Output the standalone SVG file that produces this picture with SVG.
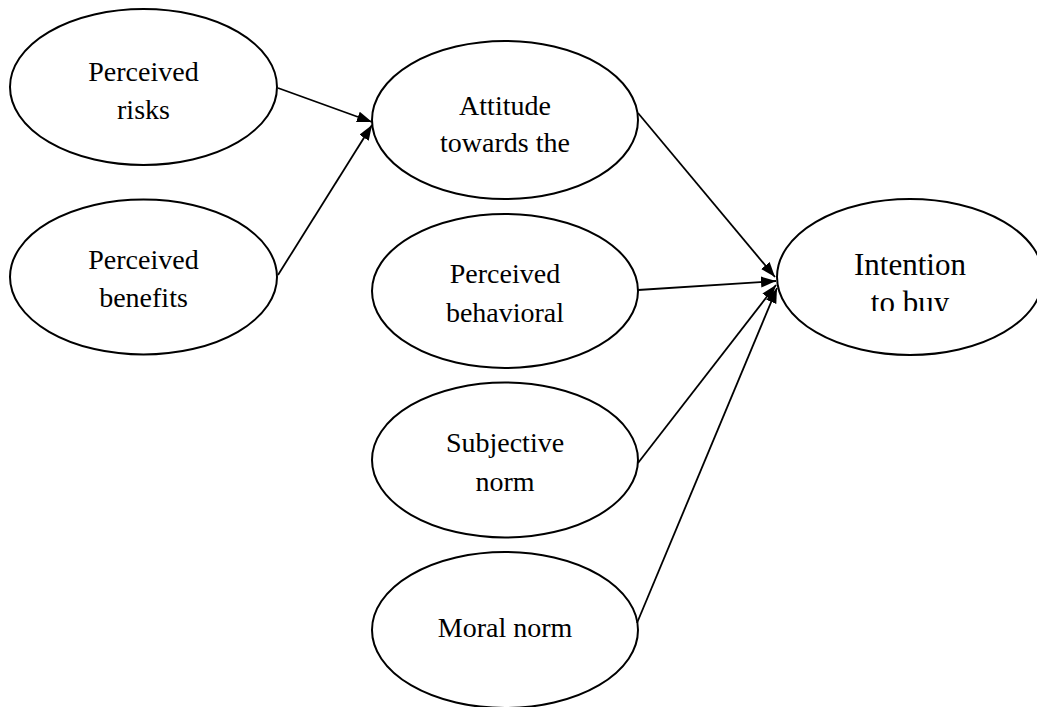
<svg xmlns="http://www.w3.org/2000/svg" width="1037" height="707" viewBox="0 0 1037 707">
<style>
.node ellipse { fill: #ffffff; stroke: #000000; stroke-width: 2; }
.node text { font-family: "Liberation Serif", "Times New Roman", serif; font-size: 28px; fill: #000000; text-anchor: middle; }
.edge line { stroke: #000000; stroke-width: 1.8; marker-end: url(#arrow); }
</style>
<defs>
<marker id="arrow" markerUnits="userSpaceOnUse" markerWidth="16" markerHeight="12" refX="15" refY="5.5" orient="auto">
<path d="M0,0 L15,5.5 L0,11 z" fill="#000000"/>
</marker>
<clipPath id="clipBuy"><rect x="780" y="200" width="260" height="111"/></clipPath>
</defs>
<rect width="1037" height="707" fill="#ffffff"/>
<g id="n-risks" class="node">
<ellipse cx="143.5" cy="87" rx="133.5" ry="78"/>
<text x="143.5" y="81">Perceived</text>
<text x="143.5" y="119">risks</text>
</g>
<g id="n-benefits" class="node">
<ellipse cx="143.5" cy="277" rx="133.5" ry="77.5"/>
<text x="143.5" y="269">Perceived</text>
<text x="143.5" y="307">benefits</text>
</g>
<g id="n-attitude" class="node">
<ellipse cx="505" cy="120" rx="133" ry="79"/>
<text x="505" y="115">Attitude</text>
<text x="505" y="152">towards the</text>
</g>
<g id="n-behavioral" class="node">
<ellipse cx="505" cy="291" rx="133" ry="77"/>
<text x="505" y="283">Perceived</text>
<text x="505" y="322">behavioral</text>
</g>
<g id="n-subjective" class="node">
<ellipse cx="505" cy="460" rx="133" ry="77.5"/>
<text x="505" y="452">Subjective</text>
<text x="505" y="491">norm</text>
</g>
<g id="n-moral" class="node">
<ellipse cx="505" cy="630" rx="133" ry="78"/>
<text x="505" y="637">Moral norm</text>
</g>
<g id="n-intention" class="node">
<ellipse cx="910" cy="277" rx="133" ry="78"/>
<text x="910" y="275" style="font-size:31px">Intention</text>
<text x="910" y="313" style="font-size:31px" clip-path="url(#clipBuy)">to buy</text>
</g>
<g id="connectors" class="edge">
<line x1="278" y1="88" x2="372" y2="122"/>
<line x1="278" y1="275" x2="372" y2="125"/>
<line x1="638" y1="113" x2="775" y2="277"/>
<line x1="638" y1="290" x2="776" y2="281"/>
<line x1="638" y1="463" x2="776" y2="285"/>
<line x1="637" y1="623" x2="777" y2="288"/>
</g>
</svg>
